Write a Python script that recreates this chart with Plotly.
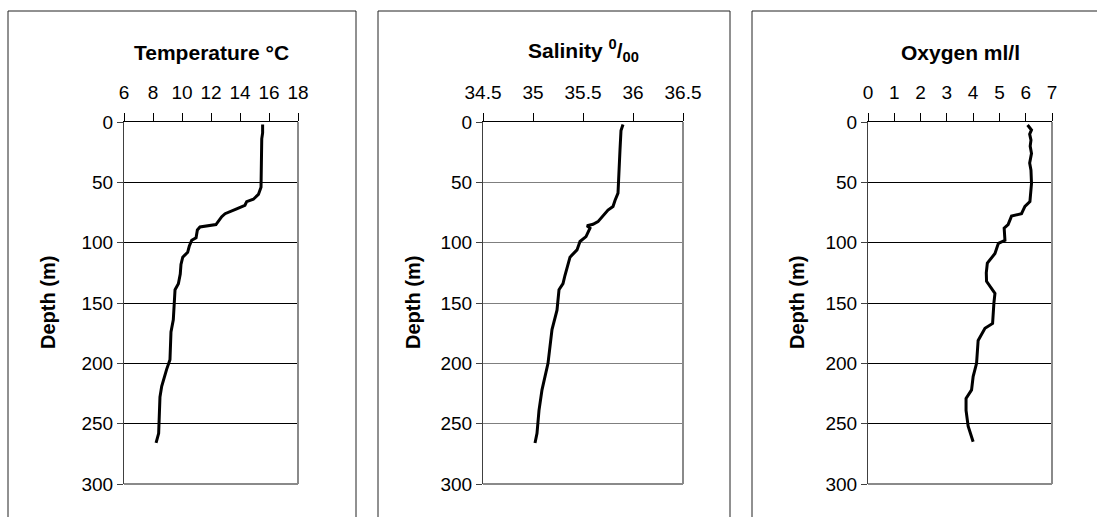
import plotly.graph_objects as go

W, H = 1097, 517

# ---- data ----
depth_t = [2, 9, 14, 54, 60, 64, 66, 69, 72, 76, 78.5, 85, 87, 89.5, 96, 98, 103, 108, 112, 118,
           126, 134, 139, 150, 164, 174, 197, 205, 219, 228, 244, 258, 266]
temp = [15.56, 15.56, 15.5, 15.45, 15.27, 14.92, 14.46, 14.34, 13.77, 12.97, 12.74, 12.34, 11.24,
        11.06, 10.97, 10.67, 10.5, 10.39, 10.05, 9.93, 9.88, 9.75, 9.52, 9.45, 9.4, 9.24, 9.17,
        8.94, 8.6, 8.48, 8.44, 8.39, 8.21]

depth_s = [2, 7, 23, 51, 59, 65, 70, 73, 78, 82.6, 84.8, 86, 88, 95, 99, 106, 112, 120, 127, 134,
           139, 156, 172, 200, 211, 222, 239, 258, 266]
sal = [35.90, 35.88, 35.87, 35.86, 35.85, 35.82, 35.80, 35.75, 35.70, 35.65, 35.60, 35.54, 35.57,
       35.53, 35.47, 35.44, 35.37, 35.34, 35.32, 35.30, 35.26, 35.24, 35.19, 35.15, 35.12, 35.09,
       35.06, 35.04, 35.02]

depth_o = [2.5, 6.6, 10, 15, 20, 26, 34, 40, 51, 60, 66, 70, 76, 78, 85, 88, 98, 100.5, 109, 117,
           125, 132, 142, 150, 167, 171, 181, 200, 211, 222, 229, 239, 252, 265]
oxy = [6.07, 6.22, 6.15, 6.20, 6.17, 6.22, 6.15, 6.20, 6.22, 6.19, 6.16, 5.97, 5.84, 5.46, 5.33,
       5.18, 5.21, 4.96, 4.83, 4.54, 4.50, 4.51, 4.83, 4.79, 4.74, 4.45, 4.19, 4.13, 4.00, 3.94,
       3.73, 3.73, 3.81, 4.00]

titles = ["<b>Temperature °C</b>", "<b>Salinity <sup>0</sup>/<sub>00</sub></b>", "<b>Oxygen ml/l</b>"]
depth_ticks = [0, 50, 100, 150, 200, 250, 300]

# ---- layout geometry (pixels) ----
panels = [
    dict(x=(124, 298), rng=[6, 18], dtick=2, minor=1, tick0=6, grid="black",
         frame=(8, 356), title_x=211, title_y=53, ylab_x=48, xs=temp, ys=depth_t),
    dict(x=(483, 683), rng=[34.5, 36.5], dtick=0.5, minor=0.1, tick0=34.5, grid="#7f7f7f",
         frame=(378, 730), title_x=583, title_y=51, ylab_x=413, xs=sal, ys=depth_s),
    dict(x=(868, 1052), rng=[0, 7], dtick=1, minor=0.5, tick0=0, grid="black",
         frame=(752, 1120), title_x=960, title_y=53, ylab_x=797, xs=oxy, ys=depth_o),
]
ytop, ybot = 122, 484
FONT = "Arial, Liberation Sans, sans-serif"

def px(x):
    return x / W

def py(y):
    return 1 - y / H

fig = go.Figure()
layout = dict(width=W, height=H, margin=dict(l=0, r=0, t=0, b=0, autoexpand=False), autosize=False,
              paper_bgcolor="white", plot_bgcolor="white", showlegend=False,
              font=dict(family=FONT, size=19, color="black"))
shapes, annotations = [], []

for i, p in enumerate(panels):
    n = i + 1
    sx = "" if n == 1 else str(n)
    ov = str(n + 3)
    fig.add_trace(go.Scatter(x=p["xs"], y=p["ys"], mode="lines",
                             line=dict(color="black", width=3), xaxis="x" + sx, yaxis="y" + sx))
    layout["xaxis" + sx] = dict(domain=[px(p["x"][0]), px(p["x"][1])], range=p["rng"], side="top",
                                anchor="y" + sx, tick0=p["tick0"], dtick=p["dtick"], ticks="outside",
                                ticklen=8, tickcolor="black", showline=True, linecolor="black",
                                linewidth=1, showgrid=False, zeroline=False, fixedrange=True,
                                ticklabelstandoff=6, automargin=False)
    layout["xaxis" + ov] = dict(domain=[px(p["x"][0]), px(p["x"][1])], range=p["rng"], side="top",
                                anchor="y" + sx, overlaying="x" + sx, tick0=p["tick0"],
                                dtick=p["minor"], ticks="inside", ticklen=4, tickcolor="black",
                                showticklabels=False, showline=False, showgrid=False,
                                zeroline=False, fixedrange=True, automargin=False)
    layout["yaxis" + sx] = dict(domain=[py(ybot), py(ytop)], range=[300, 0], anchor="x" + sx,
                                tickvals=depth_ticks, ticks="outside", ticklen=6, tickcolor="#404040",
                                showline=True, linecolor="#404040", linewidth=1, showgrid=True,
                                gridcolor=p["grid"], gridwidth=1, zeroline=False, fixedrange=True,
                                automargin=False)
    # right and bottom plot borders (gray)
    shapes.append(dict(type="line", xref="x%s domain" % sx, yref="y%s domain" % sx,
                       x0=1, x1=1, y0=0, y1=1, line=dict(color="#8a8a8a", width=2)))
    shapes.append(dict(type="line", xref="x%s domain" % sx, yref="y%s domain" % sx,
                       x0=0, x1=1, y0=0, y1=0, line=dict(color="#8a8a8a", width=2)))
    # chart frame
    shapes.append(dict(type="rect", xref="paper", yref="paper", x0=px(p["frame"][0]),
                       x1=px(p["frame"][1]), y0=py(H + 20), y1=py(11),
                       line=dict(color="#222222", width=1), layer="below"))
    annotations.append(dict(text=titles[i], xref="paper", yref="paper", x=px(p["title_x"]),
                            y=py(p["title_y"]), xanchor="center", yanchor="middle",
                            showarrow=False, font=dict(size=21, family=FONT)))
    annotations.append(dict(text="<b>Depth (m)</b>", xref="paper", yref="paper",
                            x=px(p["ylab_x"]), y=py(303), xanchor="center", yanchor="middle",
                            textangle=-90, showarrow=False, font=dict(size=20, family=FONT)))

layout["shapes"] = shapes
layout["annotations"] = annotations
fig.update_layout(**layout)
fig.write_html("out.html")
